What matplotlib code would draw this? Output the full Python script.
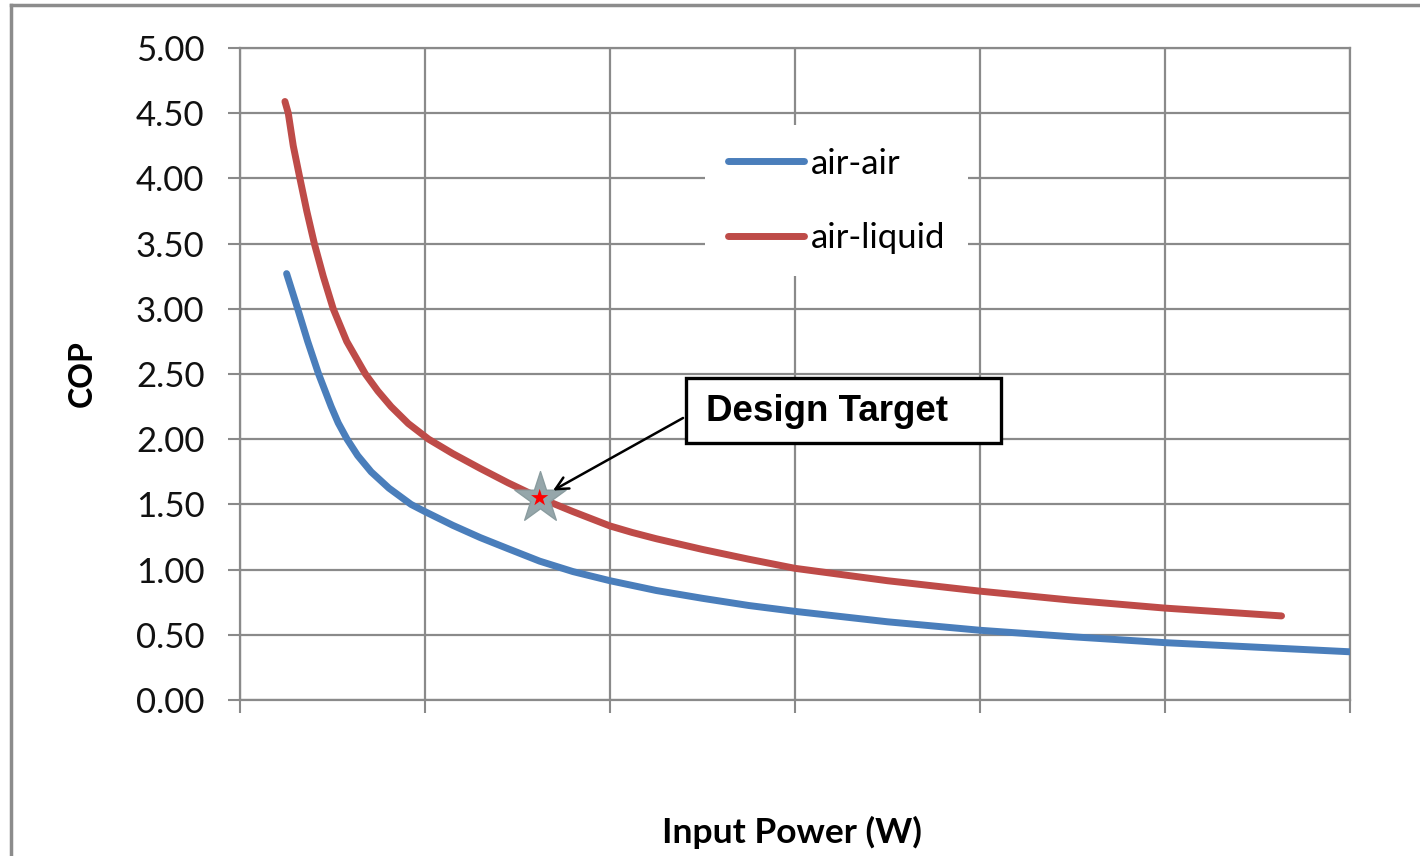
import matplotlib.pyplot as plt
from matplotlib.lines import Line2D
from matplotlib.patches import Rectangle

# COP vs input power, x in grid divisions (no tick labels on the power axis)
x_air_air = [0.252, 0.312, 0.366, 0.425, 0.493, 0.531, 0.579, 0.636, 0.709, 0.805,
             0.925, 1.0, 1.15, 1.3, 1.45, 1.62, 1.8, 2.0, 2.25, 2.5, 2.75, 3.0,
             3.5, 4.0, 4.5, 5.0, 5.5, 6.0]
cop_air_air = [3.27, 3.00, 2.75, 2.50, 2.25, 2.125, 2.00, 1.875, 1.75, 1.625,
               1.50, 1.445, 1.34, 1.245, 1.16, 1.065, 0.985, 0.915, 0.84, 0.78, 0.725, 0.68,
               0.60, 0.535, 0.485, 0.44, 0.405, 0.37]

x_air_liquid = [0.243, 0.261, 0.288, 0.324, 0.361, 0.402, 0.45, 0.504, 0.577, 0.678,
                0.745, 0.817, 0.91, 1.02, 1.15, 1.3, 1.45, 1.62, 1.8, 1.9, 2.0, 2.12,
                2.25, 2.5, 2.75, 3.0, 3.5, 4.0, 4.5, 5.0, 5.63]
cop_air_liquid = [4.59, 4.50, 4.25, 4.00, 3.75, 3.50, 3.25, 3.00, 2.75, 2.50,
                  2.37, 2.25, 2.12, 2.00, 1.89, 1.775, 1.665, 1.55, 1.445, 1.39, 1.335, 1.285,
                  1.237, 1.155, 1.08, 1.01, 0.915, 0.835, 0.765, 0.705, 0.645]

target_x = 1.62
target_cop = 1.55

y_ticks = [0, 0.5, 1.0, 1.5, 2.0, 2.5, 3.0, 3.5, 4.0, 4.5, 5.0]
x_ticks = [0, 1, 2, 3, 4, 5, 6]

blue = '#4A7EBB'
red = '#BE4B48'
grid_c = '#8a8a8a'

plt.rcParams['font.family'] = ['Lato', 'DejaVu Sans']

fig = plt.figure(figsize=(14.2, 8.56), dpi=100)
ax = fig.add_axes([0.169, 0.1822, 0.7817, 0.7617])

ax.plot(x_air_air, cop_air_air, color=blue, lw=5, solid_capstyle='round',
        solid_joinstyle='round', label='air-air', zorder=3)
ax.plot(x_air_liquid, cop_air_liquid, color=red, lw=5, solid_capstyle='round',
        solid_joinstyle='round', label='air-liquid', zorder=3)

ax.set_xlim(0, 6)
ax.set_ylim(0, 5)
ax.set_xticks(x_ticks)
ax.set_yticks(y_ticks)
ax.set_yticklabels([f'{v:.2f}' for v in y_ticks])
ax.tick_params(axis='x', direction='out', length=9.5, width=1.5, color=grid_c, labelbottom=False)
ax.tick_params(axis='y', direction='out', length=8.5, width=1.5, color=grid_c,
               labelsize=25, labelcolor='#111111', pad=17)
ax.grid(True, color=grid_c, lw=1.6)
ax.set_axisbelow(True)
for s in ax.spines.values():
    s.set_color(grid_c)
    s.set_linewidth(1.6)

ax.set_ylabel('COP', fontsize=23, fontweight='bold', labelpad=28)
fig.text(792 / 1420, 1 - 832 / 856, 'Input Power (W)', fontsize=25.5, fontweight='bold',
         ha='center', va='center')

leg = ax.legend(loc='upper left', bbox_to_anchor=(0.419, 0.882), borderaxespad=0,
                fontsize=25, frameon=True, fancybox=False, framealpha=1,
                facecolor='white', edgecolor='none', handlelength=2.2,
                handletextpad=0.2, labelspacing=1.22, borderpad=0.65)
leg.set_zorder(4)

# design target marker
ax.scatter([target_x], [target_cop], marker='*', s=1500, color='#95a6aa', edgecolor='#8a9c9f', zorder=5)
ax.scatter([target_x], [target_cop], marker='*', s=170, color='red', edgecolor='none', zorder=6)

# callout box and arrow
ax.add_patch(Rectangle((2.411, 1.971), 1.703, 0.498, facecolor='white', edgecolor='black',
                       lw=2.4, zorder=5))
ax.text(2.519, 2.21, 'Design Target', family=['Liberation Sans', 'DejaVu Sans'],
        fontsize=26.5, fontweight='bold', ha='left', va='center', zorder=6)
ax.annotate('', xy=(target_x, target_cop), xytext=(2.395, 2.163),
            arrowprops=dict(arrowstyle='->,head_length=0.9,head_width=0.45', lw=1.8,
                            color='black', shrinkA=0, shrinkB=11), zorder=6)

# chart frame
fig.add_artist(Line2D([11 / 1420, 1], [1 - 5 / 856, 1 - 5 / 856], color='#8c8c8c', lw=2.5))
fig.add_artist(Line2D([11 / 1420, 11 / 1420], [0, 1 - 5 / 856], color='#8c8c8c', lw=2.5))

fig.savefig('out.png', dpi=100)
